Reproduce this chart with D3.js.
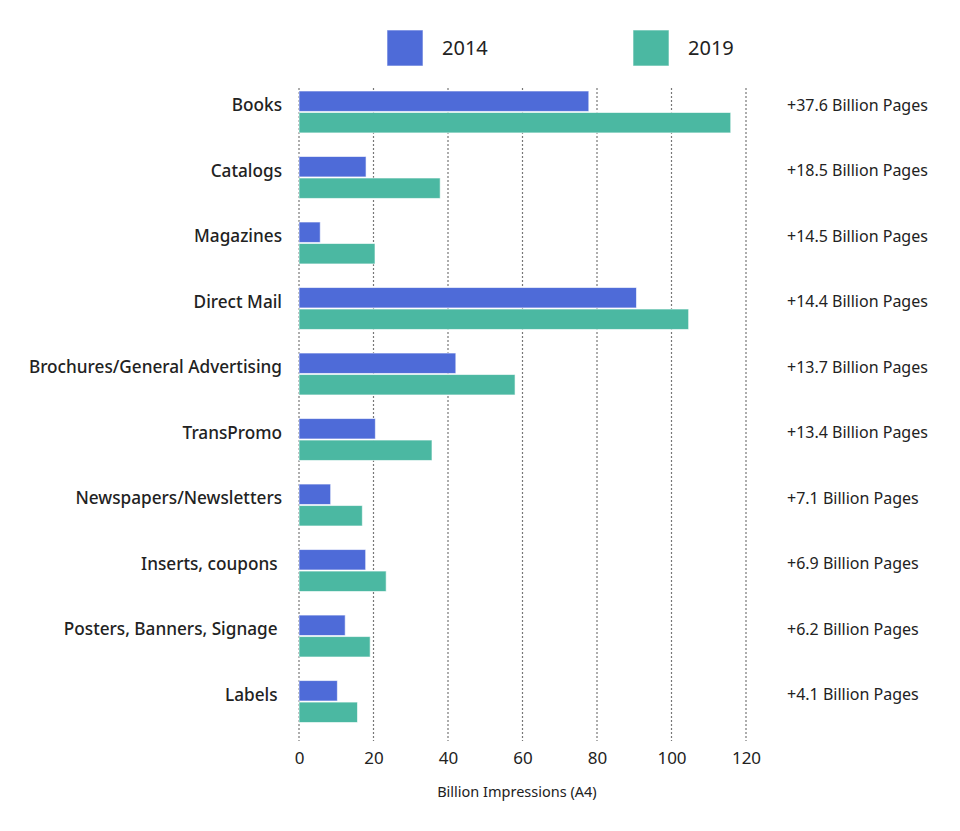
<!DOCTYPE html>
<html>
<head>
<meta charset="utf-8">
<script src="https://cdn.jsdelivr.net/npm/d3@7"></script>
<style>
  body { margin: 0; background: #fff; }
  text { font-family: "Noto Sans", sans-serif; fill: #222; }
</style>
</head>
<body>
<div id="chart"></div>
<script>
const categories = ['Books', 'Catalogs', 'Magazines', 'Direct Mail', 'Brochures/General Advertising',
  'TransPromo', 'Newspapers/Newsletters', 'Inserts, coupons ', 'Posters, Banners, Signage ', 'Labels '];
const values2014 = [77.8, 18, 5.7, 90.6, 42.1, 20.5, 8.5, 17.9, 12.4, 10.3];
const values2019 = [115.9, 37.9, 20.4, 104.6, 58, 35.7, 17, 23.4, 19.1, 15.7];
const growthLabels = ['+37.6 Billion Pages', '+18.5 Billion Pages', '+14.5 Billion Pages', '+14.4 Billion Pages',
  '+13.7 Billion Pages', '+13.4 Billion Pages', '+7.1 Billion Pages', '+6.9 Billion Pages',
  '+6.2 Billion Pages', '+4.1 Billion Pages'];
const years = ['2014', '2019'];
const xTicks = [0, 20, 40, 60, 80, 100, 120];

const colors = { '2014': '#4e6bd8', '2019': '#4bb8a2' };
const width = 960;
const height = 831;

const svg = d3.select('#chart')
  .append('svg')
  .attr('width', width)
  .attr('height', height);

const x = d3.scaleLinear().domain([0, 120]).range([299, 746]);

const y = d3.scaleBand()
  .domain(categories)
  .range([91, 722.5])
  .paddingInner(0.36)
  .paddingOuter(0);

const ySub = d3.scaleBand()
  .domain(years)
  .range([0, y.bandwidth()])
  .paddingInner(0.05);

// grid
svg.append('g')
  .selectAll('line')
  .data(xTicks)
  .join('line')
  .attr('x1', d => x(d))
  .attr('x2', d => x(d))
  .attr('y1', 88)
  .attr('y2', 741)
  .attr('stroke', '#777')
  .attr('stroke-width', 1.2)
  .attr('stroke-dasharray', '2,2');

// bars
const rows = categories.map((c, i) => ({ cat: c, vals: [
  { year: '2014', value: values2014[i] },
  { year: '2019', value: values2019[i] }
] }));

const group = svg.append('g')
  .selectAll('g')
  .data(rows)
  .join('g')
  .attr('transform', d => `translate(0, ${y(d.cat)})`);

group.selectAll('rect')
  .data(d => d.vals)
  .join('rect')
  .attr('x', x(0))
  .attr('y', d => ySub(d.year))
  .attr('width', d => x(d.value) - x(0))
  .attr('height', ySub.bandwidth())
  .attr('fill', d => colors[d.year])
  .attr('stroke', 'rgba(255,255,255,0.6)')
  .attr('stroke-width', 1);

// category labels
svg.append('g')
  .selectAll('text')
  .data(categories)
  .join('text')
  .attr('x', 282)
  .attr('y', d => y(d) + 14)
  .attr('dy', '0.35em')
  .attr('text-anchor', 'end')
  .attr('font-size', 17.2)
  .attr('font-weight', 500)
  .style('white-space', 'pre')
  .text(d => d);

// growth labels
svg.append('g')
  .selectAll('text')
  .data(categories)
  .join('text')
  .attr('x', 787)
  .attr('y', (d, i) => y(d) + 14)
  .attr('dy', '0.35em')
  .attr('font-size', 16)
  .text((d, i) => growthLabels[i]);

// x axis
const axis = svg.append('g')
  .attr('transform', 'translate(0, 752)')
  .call(d3.axisBottom(x).tickValues(xTicks).tickSize(0).tickPadding(0));
axis.select('.domain').remove();
axis.selectAll('text')
  .attr('font-size', 17)
  .attr('dy', '0.71em')
  .style('font-family', '"Noto Sans", sans-serif')
  .attr('fill', '#222');

svg.append('text')
  .attr('x', x(58.5))
  .attr('y', 792)
  .attr('dy', '0.35em')
  .attr('text-anchor', 'middle')
  .attr('font-size', 14.5)
  .text('Billion Impressions (A4)');

// legend
const legend = svg.append('g')
  .selectAll('g')
  .data(years)
  .join('g')
  .attr('transform', (d, i) => `translate(${387 + i * 246}, 30)`);

legend.append('rect')
  .attr('width', 36)
  .attr('height', 36)
  .attr('fill', d => colors[d])
  .attr('stroke', 'rgba(255,255,255,0.6)');

legend.append('text')
  .attr('x', 55)
  .attr('y', 18)
  .attr('dy', '0.35em')
  .attr('font-size', 20)
  .text(d => d);
</script>
</body>
</html>
